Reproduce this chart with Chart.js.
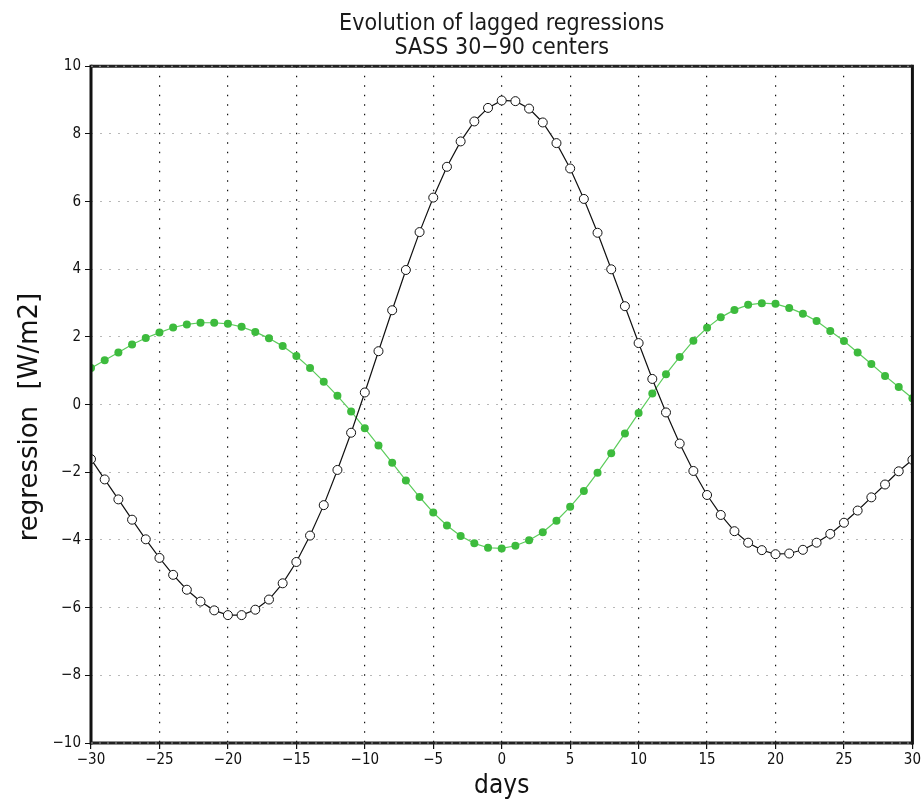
<!DOCTYPE html>
<html>
<head>
<meta charset="utf-8">
<script src="https://cdn.jsdelivr.net/npm/chart.js@4.4.1/dist/chart.umd.min.js"></script>
<style>
html,body{margin:0;padding:0;background:#fff;}
#wrap{width:923px;height:801px;}
</style>
</head>
<body>
<div id="wrap"><canvas id="c" width="923" height="801"></canvas></div>
<script>
const days = [];
for (let d = -30; d <= 30; d++) days.push(d);

const blackSeries = [
  -1.61, -2.21, -2.80, -3.40, -3.98, -4.53, -5.03, -5.47, -5.82, -6.08,
  -6.22, -6.22, -6.06, -5.76, -5.28, -4.65, -3.87, -2.97, -1.93, -0.83,
  0.36, 1.58, 2.79, 3.98, 5.10, 6.12, 7.03, 7.78, 8.37, 8.77,
  8.99, 8.97, 8.75, 8.34, 7.73, 6.98, 6.08, 5.08, 4.00, 2.91,
  1.82, 0.76, -0.23, -1.15, -1.96, -2.67, -3.26, -3.74, -4.08, -4.30,
  -4.42, -4.40, -4.29, -4.08, -3.82, -3.49, -3.13, -2.74, -2.36, -1.97,
  -1.63
];

const greenSeries = [
  1.08, 1.31, 1.54, 1.78, 1.97, 2.13, 2.28, 2.37, 2.42, 2.42,
  2.39, 2.30, 2.15, 1.96, 1.73, 1.44, 1.08, 0.68, 0.26, -0.20,
  -0.70, -1.21, -1.72, -2.24, -2.73, -3.19, -3.57, -3.88, -4.10, -4.23,
  -4.25, -4.17, -4.01, -3.77, -3.43, -3.02, -2.55, -2.01, -1.44, -0.85,
  -0.25, 0.33, 0.90, 1.41, 1.89, 2.27, 2.58, 2.80, 2.95, 3.00,
  2.98, 2.86, 2.69, 2.47, 2.18, 1.88, 1.54, 1.20, 0.85, 0.52,
  0.19
];

const xTicks = [-30, -25, -20, -15, -10, -5, 0, 5, 10, 15, 20, 25, 30];
const yTicks = [-10, -8, -6, -4, -2, 0, 2, 4, 6, 8, 10];
const titleLines = ['Evolution of lagged regressions', 'SASS 30\u221290 centers'];
const xTitle = 'days';
const yTitle = 'regression  [W/m2]   ';

const fmt = v => (v < 0 ? '\u2212' + Math.abs(v) : String(v));
const condensed = "'DejaVu Sans Condensed','DejaVu Sans',sans-serif";
const tickFont = {family: condensed, size: 15, weight: 'normal'};

const frame = {
  id: 'frame',
  afterDatasetsDraw(chart) {
    const {ctx, chartArea: a} = chart;
    ctx.save();
    ctx.lineCap = 'butt';
    ctx.strokeStyle = '#111';
    ctx.lineWidth = 3;
    ctx.beginPath();
    ctx.moveTo(a.left, a.top - 1.5); ctx.lineTo(a.left, a.bottom + 1.5);
    ctx.moveTo(a.right, a.top - 1.5); ctx.lineTo(a.right, a.bottom + 1.5);
    ctx.stroke();
    ctx.strokeStyle = '#222';
    ctx.lineWidth = 3;
    ctx.beginPath();
    ctx.moveTo(a.left, a.top); ctx.lineTo(a.right, a.top);
    ctx.moveTo(a.left, a.bottom); ctx.lineTo(a.right, a.bottom);
    ctx.stroke();
    ctx.strokeStyle = '#999';
    ctx.lineWidth = 1;
    ctx.setLineDash([2, 6]);
    ctx.beginPath();
    ctx.moveTo(a.left, a.top); ctx.lineTo(a.right, a.top);
    ctx.moveTo(a.left, a.bottom); ctx.lineTo(a.right, a.bottom);
    ctx.stroke();
    ctx.restore();
  }
};

new Chart(document.getElementById('c'), {
  type: 'line',
  data: {
    datasets: [
      {
        label: 'black',
        data: days.map((d, i) => ({x: d, y: blackSeries[i]})),
        borderColor: '#111',
        borderWidth: 1.2,
        pointRadius: 4.5,
        pointBackgroundColor: '#fff',
        pointBorderColor: '#111',
        pointBorderWidth: 1,
        tension: 0,
        order: 1
      },
      {
        label: 'green',
        data: days.map((d, i) => ({x: d, y: greenSeries[i]})),
        borderColor: '#5ccc5c',
        borderWidth: 1.2,
        pointRadius: 4,
        pointBackgroundColor: '#3dbb3d',
        pointBorderColor: '#3dbb3d',
        pointBorderWidth: 0,
        tension: 0,
        order: 2
      }
    ]
  },
  options: {
    responsive: false,
    animation: false,
    devicePixelRatio: 1,
    layout: {padding: {left: 0, right: 10, top: 0, bottom: 0}},
    plugins: {
      legend: {display: false},
      tooltip: {enabled: false},
      title: {
        display: true,
        fullSize: false,
        text: titleLines,
        color: '#1a1a1a',
        font: {family: condensed, size: 23, weight: 'normal', lineHeight: 1.05},
        padding: {top: 12, bottom: 6}
      }
    },
    scales: {
      x: {
        type: 'linear',
        min: -30, max: 30,
        afterBuildTicks: s => { s.ticks = xTicks.map(v => ({value: v})); },
        afterFit: s => { s.height = 58; },
        ticks: {
          callback: v => fmt(v),
          color: '#111',
          font: tickFont,
          padding: 2,
          maxRotation: 0,
          autoSkip: false
        },
        grid: {
          color: ctx => (ctx.tick && (ctx.tick.value === -30 || ctx.tick.value === 30)) ? 'rgba(0,0,0,0)' : '#111',
          lineWidth: 1.2,
          tickColor: '#111',
          tickLength: 6,
          tickBorderDash: [],
          drawOnChartArea: true
        },
        border: {display: false, dash: [1.5, 8]},
        title: {
          display: true,
          text: xTitle,
          color: '#111',
          font: {family: condensed, size: 26, weight: 'normal', lineHeight: 1.1},
          padding: {top: 3, bottom: 0}
        }
      },
      y: {
        type: 'linear',
        min: -10, max: 10,
        afterBuildTicks: s => { s.ticks = yTicks.map(v => ({value: v})); },
        afterFit: s => { s.width = 91; },
        ticks: {
          callback: v => fmt(v),
          color: '#111',
          font: tickFont,
          padding: 4
        },
        grid: {
          color: ctx => (ctx.tick && (ctx.tick.value === -10 || ctx.tick.value === 10)) ? 'rgba(0,0,0,0)' : '#b8b8b8',
          lineWidth: 1,
          tickColor: '#111',
          tickLength: 6,
          tickBorderDash: []
        },
        border: {display: false, dash: [2, 7]},
        title: {
          display: true,
          text: yTitle,
          color: '#111',
          font: {family: "'DejaVu Sans',sans-serif", size: 26, weight: 'normal', lineHeight: 1.1},
          padding: {top: 16, bottom: 4}
        }
      }
    }
  },
  plugins: [frame]
});
</script>
</body>
</html>
